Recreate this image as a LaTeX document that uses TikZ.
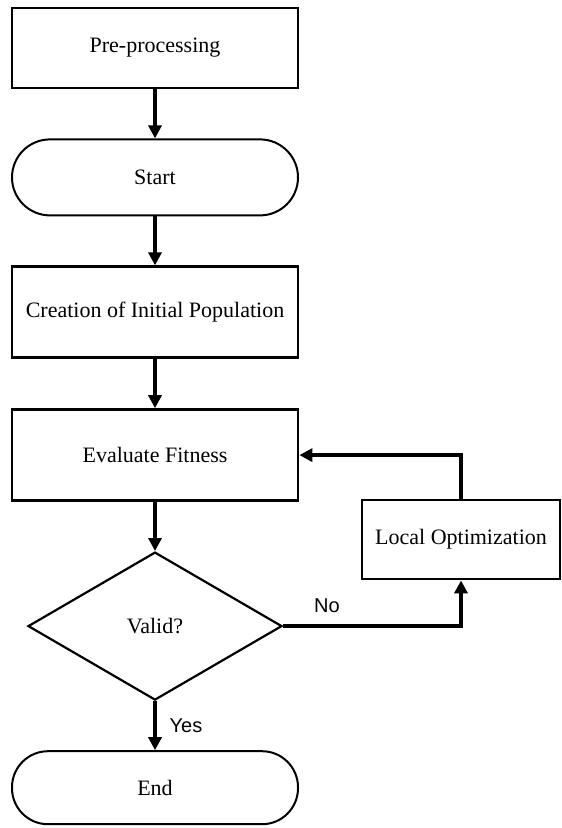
\documentclass[tikz,border=0pt]{standalone}
\usepackage{fontspec}
\setmainfont{Liberation Serif}
\newfontfamily\labelfont{Liberation Sans}
\usetikzlibrary{positioning,arrows.meta,shapes.geometric}

\begin{document}
\begin{tikzpicture}[
  node distance=24.5pt,
  every node/.style={font=\fontsize{11}{13}\selectfont},
  procbox/.style={draw,line width=1.4pt,minimum width=143pt,minimum height=45.5pt,inner sep=2pt},
  termbox/.style={draw,line width=1pt,rounded corners=18pt,minimum width=143pt,minimum height=36.5pt},
  decbox/.style={draw,diamond,line width=1.1pt,minimum width=127pt,minimum height=74pt,inner sep=0pt},
  flow/.style={line width=2pt,-{Triangle[length=6.5pt,width=6.5pt]}},
  lbl/.style={font=\labelfont\fontsize{10}{12}\selectfont}
]
\useasboundingbox (0,0) rectangle (280.5pt,-414pt);

% main column
\node[procbox,minimum height=40pt] (pre) at (77.5pt,-24pt) {Pre-processing};
\node[termbox,minimum height=38pt,rounded corners=19pt,below=of pre] (start) {Start};
\node[procbox,below=of start] (creation) {Creation of Initial Population};
\node[procbox,below=of creation] (eval) {Evaluate Fitness};
\node[decbox,below=of eval] (valid) {Valid?};
\node[termbox,below=of valid] (end) {End};

% side branch
\node[procbox,minimum width=99pt,minimum height=39.5pt] (local) at (230.5pt,-269.75pt) {Local Optimization};

\draw[flow] (pre) -- (start);
\draw[flow] (start) -- (creation);
\draw[flow] (creation) -- (eval);
\draw[flow] (eval) -- (valid);
\draw[flow] (valid) -- (end) node[lbl,midway,right=3pt] (yes) {Yes};
\draw[flow] (valid.east) -| (local.south);
\draw[flow] (local.north) |- (eval.east);
\node[lbl,above right=3pt and 12pt of valid.east] (no) {No};
\end{tikzpicture}
\end{document}
